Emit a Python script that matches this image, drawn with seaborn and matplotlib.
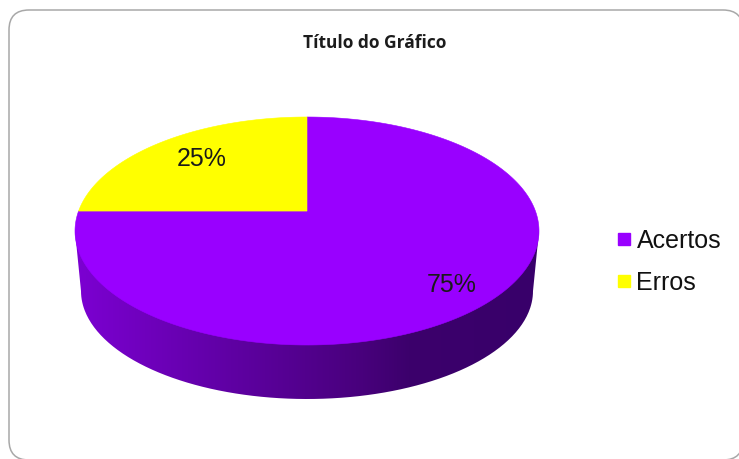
import numpy as np
import matplotlib
matplotlib.use("Agg")
import matplotlib.pyplot as plt
from matplotlib.colors import LinearSegmentedColormap
from matplotlib.lines import Line2D
from matplotlib.patches import FancyBboxPatch, PathPatch, Polygon
from matplotlib.path import Path
import seaborn as sns

# Chart data
categories = ["Acertos", "Erros"]
shares = [75, 25]
series_colors = ["#9900FF", "#FFFF00"]
chart_title = "Título do Gráfico"

sns.set_theme(style="white")
plt.rcParams["font.family"] = ["Liberation Sans", "DejaVu Sans"]
palette = sns.color_palette(series_colors)

fig = plt.figure(figsize=(7.39, 4.59), dpi=100, facecolor="white")
ax = fig.add_axes([0, 0, 1, 1])

# Rounded chart frame; its right and bottom edges run past the canvas
ax.add_patch(FancyBboxPatch((9, 10), 734, 450, boxstyle="round,pad=0,rounding_size=20",
                            fc="white", ec="#a8a8a8", lw=1.1, zorder=0))

# Geometry of the tilted disc, in pixels
CX, CY, RX, RY = 307.0, 231.0, 232.0, 114.0
BASE_CY, BASE_RX, BASE_RY = 291.0, 226.0, 108.0
TILT = 0.175


def project(u, v):
    """Perspective map of the unit disc onto the top ellipse."""
    w = 1 + TILT * v
    return CX + RX * u * np.sqrt(1 - TILT ** 2) / w, CY - RY * (v + TILT) / w


# Side wall: a horizontal shade clipped to the rim outline
theta = np.linspace(np.pi, 2 * np.pi, 240)
rim_x = np.r_[CX - RX, CX + BASE_RX * np.cos(theta), CX + RX]
rim_y = np.r_[CY, BASE_CY - BASE_RY * np.sin(theta), CY]
shade = LinearSegmentedColormap.from_list(
    "rim", [(0.0, "#7C00D2"), (0.30, "#6200A8"), (0.62, "#48007C"),
            (0.72, "#3C006C"), (1.0, "#38006A")])
image = ax.imshow(np.linspace(0, 1, 512)[None, :], cmap=shade, aspect="auto",
                  extent=(CX - RX, CX + RX, BASE_CY + BASE_RY, CY), zorder=1)
rim = PathPatch(Path(np.c_[rim_x, rim_y]), fc="none", ec="none", transform=ax.transData)
ax.add_patch(rim)
image.set_clip_path(rim)

# Top face: wedges clockwise from twelve o'clock
edges = np.cumsum([0] + shares) / sum(shares) * 2 * np.pi
for start, stop, color in zip(edges[:-1], edges[1:], palette):
    a = np.linspace(start, stop, 300)
    px, py = project(np.sin(a), np.cos(a))
    ax0, ay0 = project(0.0, 0.0)
    ax.add_patch(Polygon(np.c_[np.r_[ax0, px], np.r_[ay0, py]], closed=True,
                         fc=color, ec=color, lw=0.4, zorder=2))

# Percentage labels
label_xy = [(451.5, 284.5), (202, 159)]
for share, (lx, ly) in zip(shares, label_xy):
    ax.text(lx, ly, f"{share}%", fontsize=18, color="#1a1a1a",
            ha="center", va="center", zorder=3)

ax.text(375, 43, chart_title, fontsize=12.5, fontweight="bold", color="#1c1c1c",
        family=["Open Sans", "DejaVu Sans"], ha="center", va="center", zorder=3)

# Legend
handles = [Line2D([], [], ls="none", marker="s", ms=8.6, mfc=c, mec=c) for c in palette]
ax.legend(handles, categories, loc="center left", bbox_to_anchor=(613, 262),
          bbox_transform=ax.transData, frameon=False, fontsize=18, labelcolor="#111111",
          handlelength=0.9, handletextpad=0.04, labelspacing=0.72, borderpad=0, borderaxespad=0)

ax.set_xlim(0, 739)
ax.set_ylim(459, 0)
ax.axis("off")
fig.savefig("out.png", dpi=100, facecolor="white")
